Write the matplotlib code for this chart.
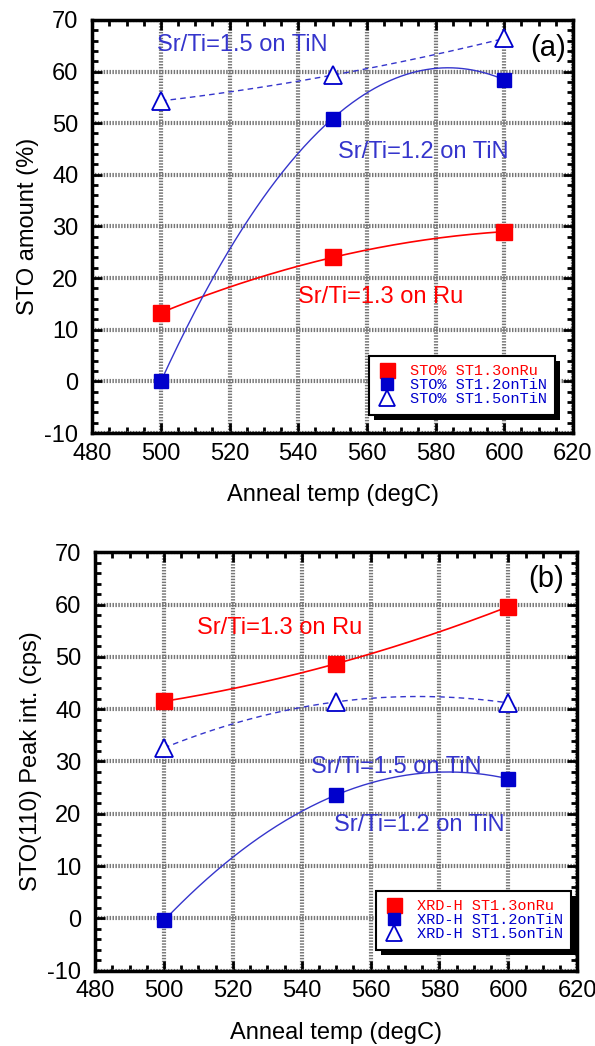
import matplotlib
matplotlib.use('Agg')
import matplotlib.pyplot as plt
from matplotlib.ticker import MultipleLocator
from matplotlib.patches import Rectangle
import numpy as np

plt.rcParams['font.family'] = ['Liberation Sans', 'DejaVu Sans']
plt.rcParams['axes.unicode_minus'] = False

# anneal temperatures (degC)
temp = [500, 550, 600]

# (a) STO amount (%)
sto_ru13 = [13.3, 24.0, 29.0]
sto_tin12 = [0.0, 50.9, 58.4]
sto_tin15 = [54.3, 59.3, 66.4]

# (b) STO(110) peak intensity (cps)
xrd_ru13 = [41.5, 48.7, 59.6]
xrd_tin12 = [-0.4, 23.6, 26.7]
xrd_tin15 = [32.6, 41.4, 41.2]

RED = '#ff0000'
BLUE = '#0000cc'
LBLUE = '#3535cc'
GRID = '#767676'


def fit_curve(x, y, n=200):
    # 2nd order polynomial through the three points
    p = np.polyfit(x, y, 2)
    xs = np.linspace(min(x), max(x), n)
    return xs, np.polyval(p, xs)


def style_axes(ax, ylabel):
    ax.set_xlim(480, 620)
    ax.set_ylim(-10, 70)
    ax.xaxis.set_major_locator(MultipleLocator(20))
    ax.xaxis.set_minor_locator(MultipleLocator(5))
    ax.yaxis.set_major_locator(MultipleLocator(10))
    ax.yaxis.set_minor_locator(MultipleLocator(2))
    ax.tick_params(which='both', direction='in', top=True, right=True,
                   labelsize=17, width=2)
    ax.tick_params(which='major', length=7)
    ax.tick_params(which='minor', length=4)
    ax.tick_params(axis='x', which='major', pad=7)
    ax.tick_params(axis='y', which='major', pad=10)
    for s in ax.spines.values():
        s.set_linewidth(2.5)
    ax.grid(True, which='major', color=GRID, linewidth=3,
            linestyle=(0, (0.35, 0.35)), zorder=0)
    ax.set_axisbelow(True)
    ax.set_xlabel('Anneal temp (degC)', fontsize=17, labelpad=14)
    ax.set_ylabel(ylabel, fontsize=17, labelpad=4)


def plot_set(ax, ru, t12, t15, prefix):
    xs, ys = fit_curve(temp, ru)
    ax.plot(xs, ys, '-', color=RED, lw=1.2, zorder=3)
    xs, ys = fit_curve(temp, t12)
    ax.plot(xs, ys, '-', color=LBLUE, lw=1.0, zorder=3)
    xs, ys = fit_curve(temp, t15)
    ax.plot(xs, ys, '--', color=LBLUE, lw=1.0, dashes=(4, 3), zorder=3)
    h1, = ax.plot(temp, ru, 's', color=RED, ms=12, ls='none', zorder=4,
                  label=prefix + ' ST1.3onRu')
    h2, = ax.plot(temp, t12, 's', color=BLUE, ms=10, ls='none', zorder=4,
                  label=prefix + ' ST1.2onTiN')
    h3, = ax.plot(temp, t15, '^', mfc='white', mec=BLUE, mew=1.3, ms=13,
                  ls='none', zorder=4, label=prefix + ' ST1.5onTiN')
    return [h1, h2, h3]


def add_legend(ax, handles, anchor):
    leg = ax.legend(handles=handles, loc='lower right', bbox_to_anchor=anchor,
                    borderaxespad=0, frameon=True, fancybox=False,
                    prop={'family': 'Liberation Mono', 'size': 11},
                    handlelength=1.2, handletextpad=0.9, labelspacing=0.0,
                    borderpad=0.55, markerscale=0.9, framealpha=1)
    leg.get_frame().set_edgecolor('black')
    leg.get_frame().set_linewidth(1.5)
    cols = [RED, BLUE, BLUE]
    for t, c in zip(leg.get_texts(), cols):
        t.set_color(c)
    leg.set_zorder(10)
    return leg


def add_shadow(ax, leg, off=5):
    # solid black drop shadow under the legend box
    bb = leg.get_window_extent()
    ax.add_patch(Rectangle((bb.x0 + off, bb.y0 - off), bb.width, bb.height,
                           transform=None, facecolor='black',
                           edgecolor='none', zorder=9, clip_on=False))


fig = plt.figure(figsize=(5.95, 10.46), dpi=100)
ax1 = fig.add_axes([0.155, 0.586, 0.808, 0.395])
ax2 = fig.add_axes([0.160, 0.072, 0.810, 0.400])

# (a)
hs = plot_set(ax1, sto_ru13, sto_tin12, sto_tin15, 'STO%')
style_axes(ax1, 'STO amount (%)')
leg1 = add_legend(ax1, hs, (0.963, 0.044))
ax1.text(523.6, 65.2, 'Sr/Ti=1.5 on TiN', color=LBLUE, fontsize=17,
         ha='center', va='center')
ax1.text(576.5, 44.4, 'Sr/Ti=1.2 on TiN', color=LBLUE, fontsize=17,
         ha='center', va='center')
ax1.text(564, 16.3, 'Sr/Ti=1.3 on Ru', color=RED, fontsize=17,
         ha='center', va='center')
ax1.text(612.7, 64.6, '(a)', color='black', fontsize=21,
         ha='center', va='center')

# (b)
hs = plot_set(ax2, xrd_ru13, xrd_tin12, xrd_tin15, 'XRD-H')
style_axes(ax2, 'STO(110) Peak int. (cps)')
leg2 = add_legend(ax2, hs, (0.988, 0.05))
ax2.text(533.7, 55.6, 'Sr/Ti=1.3 on Ru', color=RED, fontsize=17,
         ha='center', va='center')
ax2.text(567.4, 28.9, 'Sr/Ti=1.5 on TiN', color=LBLUE, fontsize=17,
         ha='center', va='center')
ax2.text(574, 17.8, 'Sr/Ti=1.2 on TiN', color=LBLUE, fontsize=17,
         ha='center', va='center')
ax2.text(611, 64.8, '(b)', color='black', fontsize=21,
         ha='center', va='center')

fig.canvas.draw()
add_shadow(ax1, leg1)
add_shadow(ax2, leg2)

fig.savefig('out.png', dpi=100)
